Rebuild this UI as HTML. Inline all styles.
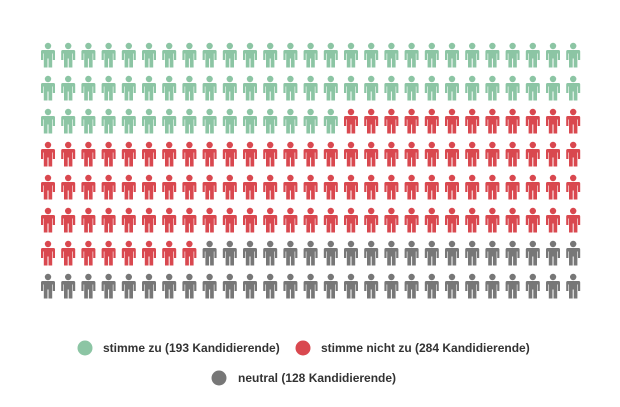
<!DOCTYPE html>
<html><head><meta charset="utf-8"><style>
html,body{margin:0;padding:0;background:#fff;width:620px;height:407px;overflow:hidden}
text{font-family:"Liberation Sans",sans-serif;font-size:12px;font-weight:bold;fill:#333}
</style></head><body>
<svg id="s" width="620" height="407" xmlns="http://www.w3.org/2000/svg">
<defs>
<g id="p">
<circle cx="0" cy="3" r="3.2"/>
<path d="M-5.5,7 h11 a1.5,1.5 0 0 1 1.5,1.5 v8.5 h-2.2 v-6.5 h-0.6 v14 h-3.7 v-9 h-1 v9 h-3.7 v-14 h-0.6 v6.5 h-2.2 v-8.5 a1.5,1.5 0 0 1 1.5,-1.5z"/>
</g>
</defs>
<g id="grid"></g>
<circle cx="85" cy="348" r="7.5" fill="#8cc5a4"/>
<text x="103" y="352">stimme zu (193 Kandidierende)</text>
<circle cx="303" cy="348" r="7.5" fill="#d9484f"/>
<text x="321" y="352">stimme nicht zu (284 Kandidierende)</text>
<circle cx="219" cy="378" r="7.5" fill="#777"/>
<text x="238" y="382">neutral (128 Kandidierende)</text>
</svg>
<script>
var g=document.getElementById('grid'),ns="http://www.w3.org/2000/svg",i=0;
for(var r=0;r<8;r++)for(var c=0;c<27;c++){
 var col=i<69?"#8cc5a4":(i<170?"#d9484f":"#777");i++;
 var u=document.createElementNS(ns,'use');
 u.setAttribute('href','#p');
 u.setAttribute('transform','translate('+(48+c*20.2)+','+(43+r*33)+')');
 u.setAttribute('fill',col);g.appendChild(u);
}
</script>
</body></html>
